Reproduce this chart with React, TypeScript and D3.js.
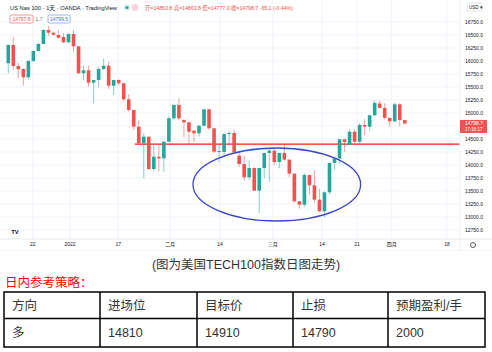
import React from 'react';
import * as d3 from 'd3';

// daily candles, US Nas 100 (OANDA)
const opens = [15956, 16308, 15904, 15846, 15687, 16000, 16192, 16327, 16596, 16544, 16500, 16462, 16360, 16519, 16283, 15764, 15821, 15583, 15635, 15846, 15910, 15525, 15635, 15571, 15264, 15058, 14737, 14417, 14544, 13923, 14160, 14128, 14448, 14898, 15154, 14865, 14821, 14660, 14610, 14756, 15071, 14706, 14256, 14250, 14596, 14615, 14180, 14019, 13763, 13942, 13506, 13942, 14231, 14276, 14058, 14231, 14103, 13834, 13302, 13237, 13808, 13610, 13333, 13110, 13475, 14040, 14123, 14494, 14385, 14640, 14448, 14769, 14737, 14956, 15183, 15098, 14906, 14840, 15167, 14864];
const highs = [16321, 16467, 15968, 15860, 16005, 16211, 16352, 16615, 16679, 16563, 16596, 16533, 16533, 16596, 16290, 15910, 15910, 15640, 15891, 16038, 15987, 15640, 15648, 15583, 15360, 15060, 14865, 14610, 14550, 14420, 14385, 14460, 14935, 15180, 15283, 14880, 14840, 14665, 14769, 15075, 15075, 14710, 14385, 14610, 14654, 14680, 14250, 14180, 14090, 13960, 13945, 14235, 14302, 14302, 14235, 14404, 14105, 13840, 13305, 13840, 13810, 13900, 13545, 13495, 14050, 14156, 14507, 14507, 14687, 14687, 14807, 14879, 14970, 15240, 15240, 15187, 14910, 15200, 15190, 14864];
const lows = [15764, 15827, 15667, 15525, 15635, 15987, 16179, 16321, 16487, 16487, 16430, 16346, 16340, 16167, 15750, 15635, 15506, 15186, 15494, 15827, 15462, 15346, 15538, 15217, 15025, 14673, 14410, 13744, 13904, 13880, 13871, 13870, 14440, 14860, 14860, 14530, 14404, 14442, 14544, 14740, 14673, 14225, 14051, 14180, 14404, 14240, 13960, 13705, 13705, 13500, 13077, 13744, 13679, 14000, 13937, 14083, 13770, 13270, 13160, 13190, 13430, 13270, 13090, 12995, 13440, 13900, 14026, 14256, 14380, 14410, 14410, 14577, 14660, 14937, 15085, 14875, 14737, 14820, 14750, 14777];
const closes = [16308, 15904, 15840, 15687, 16000, 16192, 16327, 16596, 16544, 16506, 16448, 16360, 16519, 16283, 15764, 15821, 15583, 15635, 15846, 15910, 15525, 15635, 15571, 15264, 15058, 14737, 14417, 14544, 13923, 14160, 14128, 14448, 14898, 15154, 14898, 14821, 14640, 14610, 14756, 15071, 14706, 14256, 14270, 14596, 14615, 14244, 14019, 13763, 13942, 13506, 13942, 14231, 14276, 14058, 14231, 14103, 13834, 13302, 13237, 13808, 13610, 13333, 13110, 13475, 14040, 14123, 14494, 14442, 14640, 14448, 14769, 14737, 14956, 15194, 15098, 14906, 14840, 15167, 14864, 14799];

const priceTicks = [12750, 13000, 13250, 13500, 13750, 14000, 14250, 14500, 14750, 15000, 15250, 15500, 15750, 16000, 16250, 16500, 16750];
const timeLabels = ['22', '2022', '17', '二月', '14', '三月', '14', '21', '四月', '18'];
const timeLabelBars = [4.9, 12.3, 21.9, 32.2, 42.2, 52.7, 62.5, 69.5, 76.4, 87.4];

// drawn annotations
const supportLevel = 14400;
const supportFromBar = 25.2;
const ellipseBar = 53.5;
const ellipsePrice = 13625;
const ellipseHalfBars = 16.7;
const ellipseHalfPrice = 702;

const tableHeaders = ['方向', '进场位', '目标价', '止损', '预期盈利/手'];
const tableValues = ['多', '14810', '14910', '14790', '2000'];

const UP = '#26a69a';
const DOWN = '#ef5350';
const FONT = "'Liberation Sans', Arial, 'Noto Sans CJK SC', sans-serif";

export default function App() {
  const plotRight = 460;
  const x = d3.scaleLinear().domain([-1.65, 90.4]).range([0, 462]);
  const y = d3.scaleLinear().domain([12750, 16750]).range([230, 22]);
  const bodyW = 3.6;
  const lastY = y(closes[closes.length - 1]);

  const colX = [4, 100, 197, 293, 388, 485];

  return (
    <svg width={492} height={352} style={{ position: 'absolute', left: 0, top: 0, fontFamily: FONT }}>
      <rect width={492} height={352} fill="#fff" />

      {/* grid */}
      {priceTicks.map((p) => (
        <line key={'h' + p} x1={0} x2={plotRight} y1={y(p)} y2={y(p)} stroke="#f0f3fa" strokeWidth={1} />
      ))}
      {timeLabelBars.map((b, i) => (
        <line key={'v' + i} x1={x(b)} x2={x(b)} y1={0} y2={239} stroke="#f0f3fa" strokeWidth={1} />
      ))}

      {/* support line */}
      <line x1={x(supportFromBar)} x2={plotRight} y1={y(supportLevel)} y2={y(supportLevel)} stroke="#f01c1c" strokeWidth={1.3} />

      {/* candles */}
      {closes.map((c, i) => {
        const o = opens[i];
        const col = c >= o ? UP : DOWN;
        const cx = x(i);
        const top = y(Math.max(o, c));
        const h = Math.max(1, y(Math.min(o, c)) - top);
        return (
          <g key={i}>
            <line x1={cx} x2={cx} y1={y(highs[i])} y2={y(lows[i])} stroke={col} strokeOpacity={0.55} strokeWidth={1} />
            <rect x={cx - bodyW / 2} y={top} width={bodyW} height={h} fill={col} />
          </g>
        );
      })}

      {/* ellipse annotation */}
      <ellipse
        cx={x(ellipseBar)}
        cy={y(ellipsePrice)}
        rx={x(ellipseBar + ellipseHalfBars) - x(ellipseBar)}
        ry={y(ellipsePrice - ellipseHalfPrice) - y(ellipsePrice)}
        fill="none"
        stroke="#3f46c8"
        strokeWidth={1.3}
      />

      {/* header */}
      <text x={10} y={9.5} fontSize={5.6} fill="#131722" textLength={107} lengthAdjust="spacingAndGlyphs">US Nas 100 · 1天 · OANDA · TradingView</text>
      <circle cx={127} cy={7.5} r={3.5} fill="#e0f2ef" />
      <circle cx={127} cy={7.5} r={1.6} fill={UP} />
      <circle cx={135} cy={7.5} r={3.5} fill="#fbd3dc" />
      <text x={145} y={9.5} fontSize={5.4} fill={DOWN} textLength={148} lengthAdjust="spacing">开=14863.8 高=14863.8 低=14777.0 收=14798.7 -65.1 (-0.44%)</text>
      <rect x={10} y={15} width={23} height={8} rx={1.5} fill="#fff" stroke={DOWN} strokeWidth={0.6} />
      <text x={21.5} y={21} fontSize={5} textAnchor="middle" fill={DOWN}>14797.8</text>
      <text x={39} y={21} fontSize={5} textAnchor="middle" fill="#787b86">1.7</text>
      <rect x={48} y={15} width={22} height={8} rx={1.5} fill="#fff" stroke="#5b8cf5" strokeWidth={0.6} />
      <text x={59} y={21} fontSize={5} textAnchor="middle" fill="#3a6fe0">14799.5</text>

      {/* price axis */}
      <line x1={plotRight} x2={plotRight} y1={0} y2={250} stroke="#eef0f4" />
      {priceTicks
        .filter((p) => Math.abs(y(p) - lastY) > 8)
        .map((p) => (
          <text key={'t' + p} x={465} y={y(p) + 1.8} fontSize={5} fill="#131722">{p.toFixed(1)}</text>
        ))}
      <rect x={467} y={3} width={15} height={8} rx={1.5} fill="#fff" stroke="#d1d4dc" strokeWidth={0.6} />
      <text x={469} y={8.8} fontSize={4.5} fill="#131722">USD ▾</text>
      <rect x={460} y={lastY - 3.5} width={27} height={13} fill={DOWN} />
      <text x={465} y={lastY + 1.8} fontSize={5} fill="#fff">14798.7</text>
      <text x={465} y={lastY + 7.8} fontSize={4.5} fill="#fff">17:16:17</text>

      {/* time axis */}
      <line x1={0} x2={492} y1={239} y2={239} stroke="#e0e3eb" strokeWidth={0.7} />
      <line x1={0} x2={492} y1={250.5} y2={250.5} stroke="#eef0f4" strokeWidth={0.7} />
      {timeLabels.map((t, i) => (
        <text key={'x' + i} x={x(timeLabelBars[i])} y={246} fontSize={5} textAnchor="middle" fill="#131722">{t}</text>
      ))}
      <circle cx={15} cy={232} r={6} fill="#fff" stroke="#e0e3eb" strokeWidth={0.5} />
      <text x={15} y={234} fontSize={6} fontWeight="bold" textAnchor="middle" fill="#131722">TV</text>
      <circle cx={473} cy={245} r={2.5} fill="none" stroke="#131722" strokeWidth={0.7} />

      {/* caption */}
      <text x={246} y={269} fontSize={12.5} textAnchor="middle" fill="#333">(图为美国TECH100指数日图走势)</text>
      <text x={5} y={287} fontSize={12.5} fill="#ff0000">日内参考策略：</text>

      {/* table */}
      <rect x={colX[0]} y={292} width={colX[5] - colX[0]} height={55} fill="none" stroke="#000" strokeWidth={1.5} />
      <line x1={colX[0]} x2={colX[5]} y1={318.5} y2={318.5} stroke="#000" strokeWidth={1.5} />
      {colX.slice(1, 5).map((cx) => (
        <line key={'c' + cx} x1={cx} x2={cx} y1={292} y2={347} stroke="#000" strokeWidth={1.5} />
      ))}
      {tableHeaders.map((t, i) => (
        <text key={'th' + i} x={colX[i] + 8} y={310} fontSize={12.5} fill="#333">{t}</text>
      ))}
      {tableValues.map((t, i) => (
        <text key={'td' + i} x={colX[i] + 8} y={337} fontSize={12.5} fill="#333">{t}</text>
      ))}
    </svg>
  );
}
